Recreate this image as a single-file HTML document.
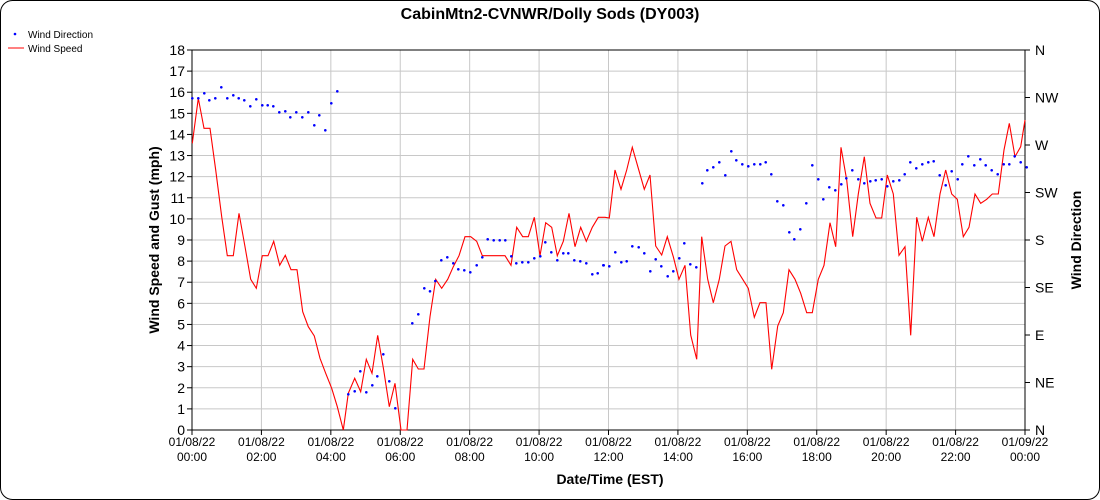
<!DOCTYPE html>
<html><head><meta charset="utf-8"><style>
html,body{margin:0;padding:0;background:#fff}
svg{display:block;font-family:"Liberation Sans",Arial,sans-serif}
</style></head><body>
<svg id="s" width="1100" height="500" xmlns="http://www.w3.org/2000/svg">
<rect x="0.5" y="0.5" width="1099" height="499" rx="12" fill="#fff" stroke="#000"/>
<text x="550" y="19" text-anchor="middle" font-size="16" font-weight="bold">CabinMtn2-CVNWR/Dolly Sods (DY003)</text>
<circle cx="15" cy="34" r="1.3" fill="#00f"/>
<text x="28" y="38" font-size="10">Wind Direction</text>
<line x1="8" y1="48" x2="24" y2="48" stroke="#f00"/>
<text x="28" y="52" font-size="10">Wind Speed</text>
<g id="g"></g>
<text x="610" y="484" text-anchor="middle" font-size="14" font-weight="bold">Date/Time (EST)</text>
<text transform="translate(159,240) rotate(-90)" text-anchor="middle" font-size="14" font-weight="bold">Wind Speed and Gust (mph)</text>
<text transform="translate(1081,240) rotate(-90)" text-anchor="middle" font-size="14" font-weight="bold">Wind Direction</text>
</svg>
<script>
var ns="http://www.w3.org/2000/svg",g=document.getElementById("g"),h="";
var L=192,R=1025,T=50,B=430;
for(var i=0;i<=18;i++){var y=B-i*(B-T)/18;
 if(i>0&&i<18)h+='<line x1="'+L+'" y1="'+y+'" x2="'+R+'" y2="'+y+'" stroke="#c8c8c8"/>';
 h+='<line x1="187" y1="'+y+'" x2="'+L+'" y2="'+y+'" stroke="#000"/>';
 h+='<text x="185" y="'+(y+5)+'" text-anchor="end" font-size="14">'+i+'</text>';}
var dirs=["N","NE","E","SE","S","SW","W","NW","N"];
for(var i=0;i<=8;i++){var y=B-i*(B-T)/8;
 h+='<line x1="'+R+'" y1="'+y+'" x2="1030" y2="'+y+'" stroke="#000"/>';
 h+='<text x="1035" y="'+(y+5)+'" font-size="14">'+dirs[i]+'</text>';}
for(var i=0;i<=12;i++){var x=L+i*(R-L)/12;
 if(i>0&&i<12)h+='<line x1="'+x+'" y1="'+T+'" x2="'+x+'" y2="'+B+'" stroke="#c8c8c8"/>';
 h+='<line x1="'+x+'" y1="'+B+'" x2="'+x+'" y2="435" stroke="#000"/>';
 var hr=(i*2)%24;var d=i==12?"01/09/22":"01/08/22";
 h+='<text x="'+x+'" y="446" text-anchor="middle" font-size="12">'+d+'</text>';
 h+='<text x="'+x+'" y="461" text-anchor="middle" font-size="12">'+(hr<10?"0":"")+hr+':00</text>';}
h+='<rect x="'+L+'" y="'+T+'" width="'+(R-L)+'" height="'+(B-T)+'" fill="none" stroke="#000"/>';
var r1=[22,310,40,175,57,265,75,265,92,390,110,530,127,647,145,647,162,520,180,620,197,718,214,745,232,647,249,647,266,604,284,676,301,646,318,689,336,689,353,815,370,860,388,888,405,955,422,1000,440,1045,457,1100,475,1170,490,1060,509,1015,527,1055,544,958,561,1000,578,886,596,990,613,1100,630,1030,648,1170,666,1170,683,958,700,987,717,987,735,830,752,718,770,745,788,718,805,680,822,647,840,590,857,590,875,604,892,647,960,647,978,676,995,562,1013,590,1030,590,1048,532,1065,647,1082,548,1100,562,1117,647,1135,604,1152,520,1170,620,1187,562,1204,604,1222,562,1240,532,1260,532];
var r2=[28,534,45,390,63,448,80,390,97,322,115,385,133,448,150,405,167,618,185,645,202,590,220,650,237,718,255,676,272,885,290,958,305,590,323,718,340,788,358,718,375,618,393,604,410,689,428,718,445,745,463,832,480,788,498,788,515,988,533,858,550,818,567,689,585,718,602,760,620,818,637,818,655,718,672,676,690,548,707,620,723,322,740,420,758,590,775,462,793,350,810,490,828,534,845,534,862,405,880,462,897,646,915,620,932,886,950,532,967,604,985,532,1002,590,1020,462,1037,390,1055,462,1072,478,1090,590,1107,562,1125,462,1142,490,1160,478,1177,462,1195,462,1212,330,1228,250,1245,350,1262,320,1275,240];
var b1=[22,175,40,175,58,160,73,181,91,175,109,142,127,175,145,166,161,175,178,181,196,199,214,178,232,196,248,196,265,199,283,217,301,214,316,232,334,217,352,232,370,217,388,256,403,226,421,271,439,190,457,154,490,1063,509,1054,526,994,544,1057,562,1036,577,1009,595,943,613,1024,631,1105,682,850,700,823,718,745,735,754,751,723,769,661,787,652,805,670,820,688,838,691,856,697,875,676,892,652,908,598,926,601,944,601,961,601,979,649,994,670,1012,667,1030,667,1048,655,1066,649,1081,607,1099,637,1117,661,1135,640,1150,640,1168,661,1186,664,1204,670,1222,703,1238,700,1256,676];
var b2=[10,676,28,679,46,637,64,667,80,664,97,619,116,622,133,640,151,694,167,658,184,679,203,709,220,694,238,655,253,610,271,673,289,682,307,430,322,391,340,382,358,367,376,406,394,334,409,361,427,373,445,379,463,373,481,373,497,367,514,403,532,484,550,496,568,577,583,598,601,568,619,490,637,376,655,418,670,478,688,442,706,451,724,433,739,415,757,391,775,418,793,430,811,424,827,421,845,418,862,439,880,424,898,421,914,403,931,367,949,385,967,373,985,367,1001,364,1019,406,1037,436,1055,394,1073,418,1087,373,1105,349,1123,376,1141,358,1157,376,1175,391,1193,403,1211,373,1228,373,1244,349,1262,367,1280,382];
var pts=[];
for(var i=0;i<r1.length;i+=2)pts.push((185+r1[i]/3).toFixed(1)+","+(40+r1[i+1]/3).toFixed(1));
for(var i=0;i<r2.length;i+=2)pts.push((600+r2[i]/3).toFixed(1)+","+(40+r2[i+1]/3).toFixed(1));
h+='<polyline points="'+pts.join(" ")+'" fill="none" stroke="#f00" stroke-width="1.1"/>';
for(var i=0;i<b1.length;i+=2)h+='<circle cx="'+(185+b1[i]/3).toFixed(1)+'" cy="'+(40+b1[i+1]/3).toFixed(1)+'" r="1.3" fill="#00f"/>';
for(var i=0;i<b2.length;i+=2)h+='<circle cx="'+(600+b2[i]/3).toFixed(1)+'" cy="'+(40+b2[i+1]/3).toFixed(1)+'" r="1.3" fill="#00f"/>';
g.innerHTML=h;
</script>
</body></html>
